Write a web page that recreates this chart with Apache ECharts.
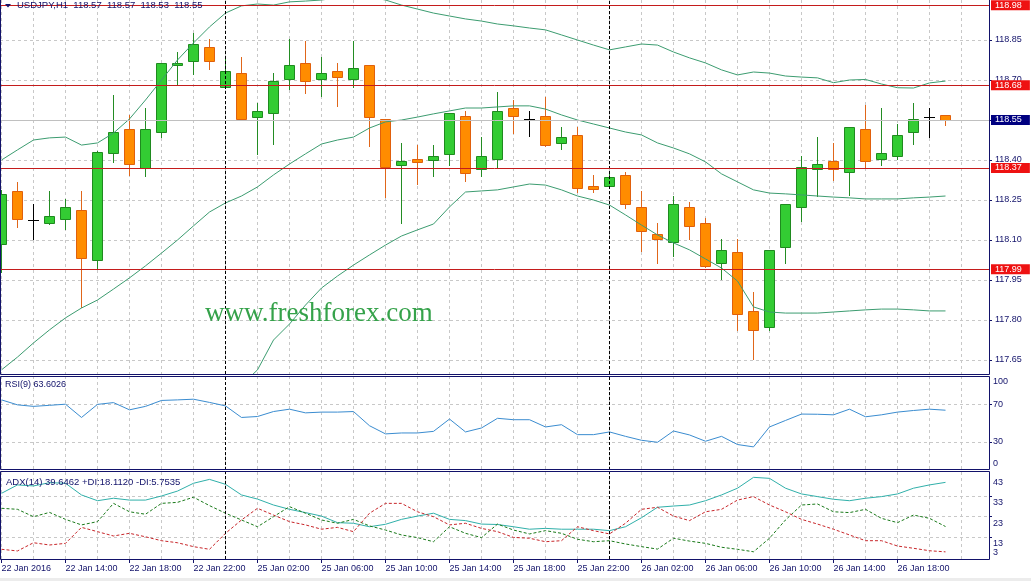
<!DOCTYPE html>
<html><head><meta charset="utf-8">
<script src="https://cdn.jsdelivr.net/npm/echarts@6/dist/echarts.min.js"></script>
<style>html,body{margin:0;padding:0;background:#fff;}#c{width:1031px;height:581px;}</style>
</head><body><div id="c"></div>
<script>
var symbolName = 'USDJPY,H1';
var barTimes = [
 '22 Jan 10:00','22 Jan 11:00','22 Jan 12:00','22 Jan 13:00','22 Jan 14:00','22 Jan 15:00','22 Jan 16:00','22 Jan 17:00','22 Jan 18:00','22 Jan 19:00',
 '22 Jan 20:00','22 Jan 21:00','22 Jan 22:00','22 Jan 23:00','25 Jan 00:00','25 Jan 01:00','25 Jan 02:00','25 Jan 03:00','25 Jan 04:00','25 Jan 05:00',
 '25 Jan 06:00','25 Jan 07:00','25 Jan 08:00','25 Jan 09:00','25 Jan 10:00','25 Jan 11:00','25 Jan 12:00','25 Jan 13:00','25 Jan 14:00','25 Jan 15:00',
 '25 Jan 16:00','25 Jan 17:00','25 Jan 18:00','25 Jan 19:00','25 Jan 20:00','25 Jan 21:00','25 Jan 22:00','25 Jan 23:00','26 Jan 00:00','26 Jan 01:00',
 '26 Jan 02:00','26 Jan 03:00','26 Jan 04:00','26 Jan 05:00','26 Jan 06:00','26 Jan 07:00','26 Jan 08:00','26 Jan 09:00','26 Jan 10:00','26 Jan 11:00',
 '26 Jan 12:00','26 Jan 13:00','26 Jan 14:00','26 Jan 15:00','26 Jan 16:00','26 Jan 17:00','26 Jan 18:00','26 Jan 19:00','26 Jan 20:00','26 Jan 21:00'
];
var open = [
 118.085,118.284,118.175,118.163,118.180,118.213,118.024,118.425,118.515,118.371,
 118.504,118.755,118.772,118.823,118.673,118.725,118.562,118.575,118.703,118.764,
 118.703,118.733,118.703,118.756,118.553,118.382,118.404,118.401,118.424,118.564,
 118.365,118.403,118.594,118.553,118.564,118.463,118.493,118.304,118.301,118.344,
 118.223,118.121,118.091,118.223,118.163,118.013,118.054,117.833,117.773,118.073,
 118.223,118.365,118.395,118.354,118.516,118.403,118.414,118.504,118.562,118.570
];
var high = [
 118.288,118.316,118.235,118.284,118.254,118.284,118.432,118.644,118.569,118.596,
 118.765,118.804,118.875,118.853,118.778,118.785,118.613,118.725,118.853,118.847,
 118.785,118.763,118.846,118.757,118.554,118.463,118.456,118.456,118.577,118.584,
 118.485,118.655,118.625,118.584,118.635,118.523,118.523,118.344,118.356,118.355,
 118.285,118.165,118.266,118.243,118.181,118.103,118.103,117.904,118.062,118.235,
 118.415,118.487,118.465,118.525,118.606,118.596,118.535,118.614,118.594,118.570
];
var low = [
 117.980,118.150,118.103,118.160,118.142,117.849,117.994,118.394,118.343,118.341,
 118.485,118.685,118.724,118.742,118.671,118.552,118.423,118.460,118.665,118.652,
 118.640,118.603,118.673,118.453,118.262,118.163,118.310,118.341,118.382,118.322,
 118.341,118.373,118.502,118.490,118.454,118.442,118.281,118.281,118.300,118.221,
 118.060,118.013,118.041,118.103,118.000,117.953,117.763,117.653,117.761,118.013,
 118.172,118.265,118.325,118.270,118.375,118.382,118.403,118.460,118.485,118.530
];
var close = [
 118.273,118.180,118.175,118.191,118.223,118.031,118.431,118.504,118.384,118.515,
 118.764,118.765,118.835,118.772,118.734,118.553,118.583,118.695,118.755,118.695,
 118.725,118.712,118.744,118.562,118.373,118.395,118.394,118.415,118.576,118.352,
 118.414,118.583,118.564,118.553,118.455,118.485,118.294,118.292,118.336,118.234,
 118.133,118.103,118.235,118.151,118.001,118.063,117.821,117.761,118.061,118.234,
 118.373,118.385,118.365,118.524,118.396,118.425,118.494,118.554,118.562,118.550
];
var bbUpper = [
 118.400,118.438,118.475,118.483,118.486,118.456,118.464,118.501,118.554,118.625,
 118.700,118.775,118.839,118.899,118.951,118.978,118.985,118.981,118.993,118.996,
 119.000,119.008,119.015,119.011,119.000,118.981,118.966,118.951,118.940,118.929,
 118.921,118.910,118.903,118.895,118.888,118.869,118.850,118.831,118.813,118.824,
 118.835,118.831,118.805,118.783,118.764,118.738,118.719,118.730,118.726,118.715,
 118.711,118.708,118.690,118.700,118.702,118.685,118.671,118.670,118.689,118.696
];
var bbMiddle = [
 117.613,117.661,117.714,117.763,117.808,117.845,117.875,117.916,117.958,118.003,
 118.051,118.100,118.153,118.205,118.239,118.265,118.299,118.344,118.385,118.423,
 118.460,118.475,118.486,118.520,118.543,118.550,118.561,118.573,118.584,118.595,
 118.595,118.599,118.603,118.603,118.591,118.569,118.550,118.535,118.520,118.505,
 118.494,118.464,118.445,118.423,118.393,118.348,118.318,118.288,118.276,118.273,
 118.269,118.265,118.261,118.258,118.254,118.254,118.254,118.258,118.261,118.265
];
var bbLower = [
 116.825,116.885,116.953,117.043,117.129,117.234,117.286,117.331,117.361,117.380,
 117.403,117.425,117.466,117.511,117.526,117.556,117.613,117.725,117.785,117.856,
 117.920,117.965,118.006,118.044,118.081,118.115,118.138,118.160,118.224,118.280,
 118.284,118.288,118.299,118.310,118.306,118.288,118.265,118.250,118.231,118.194,
 118.156,118.119,118.089,118.063,118.029,117.995,117.946,117.849,117.830,117.826,
 117.826,117.826,117.830,117.834,117.838,117.841,117.841,117.838,117.834,117.834
];
var rsi = [
 74.6,69.3,67.7,68.8,70.0,55.9,69.8,71.7,64.0,67.7,
 74.0,74.6,75.3,71.9,68.2,55.9,56.9,62.2,64.7,60.8,
 61.6,61.6,62.2,47.1,38.4,39.4,39.4,41.1,54.2,40.5,
 44.7,55.0,53.5,53.5,45.8,48.2,37.6,37.6,40.5,35.8,
 31.6,29.5,41.5,37.3,30.6,35.8,27.1,24.6,45.8,52.7,
 59.5,59.3,58.7,64.7,56.6,58.7,61.6,63.3,64.7,63.6026
];
var adx = [
 34.3,38.4,37.9,39.5,39.2,33.5,30.7,31.9,31.0,31.0,
 33.0,35.4,39.2,41.1,38.7,33.5,31.5,28.6,26.5,24.9,
 23.2,20.0,19.7,18.0,19.2,21.6,23.2,24.6,21.6,21.0,
 19.3,19.1,18.0,16.8,17.2,16.8,16.8,16.8,16.1,18.0,
 22.4,27.5,28.1,28.6,30.7,33.5,36.8,42.1,41.6,36.8,
 34.0,32.7,31.4,30.7,31.9,32.7,34.0,36.8,38.4,39.6462
];
var plusDI = [
 27.0,26.5,22.9,25.0,21.6,18.9,20.5,29.4,25.3,24.1,
 29.4,29.9,32.4,28.3,24.6,21.3,18.0,22.9,27.8,24.6,
 21.3,19.7,21.6,18.4,16.4,14.0,12.7,10.7,18.0,14.8,
 12.7,19.3,16.4,14.5,16.1,14.8,11.9,10.7,11.2,9.6,
 8.3,7.1,12.4,11.0,9.9,8.0,7.0,5.8,12.4,21.3,
 28.6,29.1,25.3,24.9,26.5,22.1,20.0,23.7,22.1,18.1120
];
var minusDI = [
 7.0,6.2,10.2,9.1,9.9,17.7,15.6,13.5,14.8,13.1,
 11.2,10.2,8.3,7.0,14.8,21.3,27.0,23.7,20.5,18.9,
 16.8,17.7,15.6,24.6,29.4,29.4,25.3,22.9,18.9,19.7,
 17.2,15.6,12.8,12.4,10.7,11.2,18.0,16.1,14.5,19.7,
 26.5,27.5,23.2,21.0,25.3,26.5,31.0,32.7,28.6,25.3,
 21.6,19.3,16.8,14.0,11.2,11.2,8.6,7.5,6.3,5.7535
];
var levels = [118.98, 118.68, 118.37, 117.99];
var priceTicks = [117.65, 117.80, 117.95, 118.10, 118.25, 118.40, 118.55, 118.70, 118.85];
var rsiLabels = [0, 30, 70, 100];
var rsiGridLevels = [30, 70];
var adxLabelsUpper = [13, 23, 33, 43];
var adxLabelBottom = [3];
var adxGridLevels = [13, 23, 33];
var xTickLabels = ['22 Jan 2016','22 Jan 14:00','22 Jan 18:00','22 Jan 22:00','25 Jan 02:00','25 Jan 06:00','25 Jan 10:00','25 Jan 14:00','25 Jan 18:00','25 Jan 22:00','26 Jan 02:00','26 Jan 06:00','26 Jan 10:00','26 Jan 14:00','26 Jan 18:00'];

// ---- derived helpers ----
var nBars = barTimes.length;
var tickBars = xTickLabels.map(function (_, k) { return k * 4; });
var gridBars = [];
for (var g = 0; g <= nBars; g += 2) gridBars.push(g);
var daySeparators = [];
for (var d = 1; d < nBars; d++) {
  if (barTimes[d].slice(0, 6) !== barTimes[d - 1].slice(0, 6)) daySeparators.push(d);
}
var last = nBars - 1;

var NAVY = '#12126a', FONT = 'Liberation Sans', GRIDC = '#c8c8c8';
var xMin = -0.09375, xMax = 61.71875;

function idx(arr) { return arr.map(function (v, i) { return [i, v]; }); }
var candleData = barTimes.map(function (t, i) { return [i, open[i], close[i], low[i], high[i]]; });

function gridX(gi) {
  return { type: 'value', gridIndex: gi, min: xMin, max: xMax,
    axisLine: { show: false, onZero: false }, axisTick: { show: false, customValues: gridBars },
    axisLabel: { show: false }, splitLine: { show: true, lineStyle: { color: GRIDC, type: [3, 3], width: 1 } } };
}
var sepMark = { symbol: ['none', 'none'], silent: true, label: { show: false },
  lineStyle: { color: '#000', type: [3, 2], width: 1 },
  data: daySeparators.map(function (v) { return { xAxis: v }; }) };

function renderCandle(params, api) {
  var i = api.value(0), o = api.value(1), c = api.value(2), l = api.value(3), h = api.value(4);
  var pO = api.coord([i, o]), pC = api.coord([i, c]), pL = api.coord([i, l]), pH = api.coord([i, h]);
  var cx = Math.floor(pO[0]);
  var yO = Math.round(pO[1]), yC = Math.round(pC[1]), yH = Math.round(pH[1]), yL = Math.round(pL[1]);
  var wick, fill, stroke;
  if (c > o) { wick = '#238c23'; fill = '#33cc33'; stroke = '#1f8a1f'; }
  else if (c < o) { wick = '#e0661a'; fill = '#ff8c00'; stroke = '#e0600c'; }
  else { wick = '#000'; }
  var children = [{ type: 'line', shape: { x1: cx + 0.5, y1: yH, x2: cx + 0.5, y2: yL + 1 }, style: { stroke: wick, lineWidth: 1 } }];
  if (c === o) {
    children.push({ type: 'line', shape: { x1: cx - 5, y1: yO + 0.5, x2: cx + 6, y2: yO + 0.5 }, style: { stroke: '#000', lineWidth: 1 } });
  } else {
    var top = Math.min(yO, yC), bot = Math.max(yO, yC);
    children.push({ type: 'rect', shape: { x: cx - 4.5, y: top + 0.5, width: 10, height: Math.max(bot - top, 1) }, style: { fill: fill, stroke: stroke, lineWidth: 1 } });
  }
  return { type: 'group', children: children };
}

var lineBase = { type: 'line', symbol: 'none', showSymbol: false, smooth: false, silent: true };
function L(extra) { var o = {}; for (var k in lineBase) o[k] = lineBase[k]; for (var k2 in extra) o[k2] = extra[k2]; return o; }
var BBC = '#3c9c70';
var labelBase = { color: NAVY, fontFamily: FONT, fontSize: 9, showMinLabel: true, showMaxLabel: true, hideOverlap: false };
function lab(extra) { var o = {}; for (var k in labelBase) o[k] = labelBase[k]; for (var k2 in extra) o[k2] = extra[k2]; return o; }

var option = {
  animation: false,
  backgroundColor: '#fff',
  grid: [
    { left: 0, top: 0, width: 989, height: 374, show: false, outerBoundsMode: 'none', containLabel: false },
    { left: 0, top: 376, width: 989, height: 94, show: false, outerBoundsMode: 'none', containLabel: false },
    { left: 0, top: 472, width: 989, height: 87, show: false, outerBoundsMode: 'none', containLabel: false }
  ],
  xAxis: [
    gridX(0), gridX(1), gridX(2),
    { type: 'value', gridIndex: 2, min: xMin, max: xMax, position: 'bottom',
      axisLine: { show: false, onZero: false },
      axisTick: { show: true, customValues: tickBars, length: 4, lineStyle: { color: NAVY } },
      axisLabel: lab({ show: true, customValues: tickBars, align: 'left', margin: 5,
        formatter: function (v) { return xTickLabels[Math.round(v / 4)] || ''; } }),
      splitLine: { show: false } }
  ],
  yAxis: [
    { type: 'value', gridIndex: 0, position: 'right', min: 117.5975, max: 119.0,
      axisLine: { show: false, onZero: false },
      axisTick: { show: true, customValues: priceTicks, length: 3, lineStyle: { color: NAVY } },
      axisLabel: lab({ customValues: priceTicks, margin: 6, formatter: function (v) { return v.toFixed(2); } }),
      splitLine: { show: true, lineStyle: { color: GRIDC, type: [3, 3], width: 1 } } },
    { type: 'value', gridIndex: 1, position: 'right', min: 0, max: 100,
      axisLine: { show: false, onZero: false },
      axisTick: { show: true, customValues: rsiGridLevels, length: 3, lineStyle: { color: NAVY } },
      axisLabel: lab({ customValues: rsiLabels, margin: 4, lineHeight: 12,
        formatter: function (v) { return v === rsiLabels[rsiLabels.length - 1] ? '\n' + v : (v === rsiLabels[0] ? v + '\n' : String(v)); } }),
      splitLine: { show: true, lineStyle: { color: GRIDC, type: [3, 3], width: 1 } } },
    { type: 'value', gridIndex: 2, position: 'right', min: 2.27, max: 44.7,
      axisLine: { show: false, onZero: false },
      axisTick: { show: true, customValues: adxGridLevels, length: 3, lineStyle: { color: NAVY } },
      axisLabel: lab({ customValues: adxLabelsUpper, margin: 4, lineHeight: 14, verticalAlign: 'top' }),
      splitLine: { show: true, lineStyle: { color: GRIDC, type: [3, 3], width: 1 } } },
    { type: 'value', gridIndex: 2, position: 'right', min: 2.27, max: 44.7,
      axisLine: { show: false, onZero: false },
      axisTick: { show: false, customValues: adxLabelBottom },
      axisLabel: lab({ customValues: adxLabelBottom, margin: 4, lineHeight: 10, verticalAlign: 'bottom' }),
      splitLine: { show: false } }
  ],
  series: [
    L({ name: 'last', xAxisIndex: 0, yAxisIndex: 0, data: [], clip: false, z: 1,
      markLine: { symbol: ['none', 'none'], silent: true, lineStyle: { color: '#c0c0c0', type: 'solid', width: 1 },
        label: { show: true, position: 'end', distance: 2, color: '#fff', backgroundColor: '#000080', padding: [1, 8, 0, 4],
          fontFamily: FONT, fontSize: 9, lineHeight: 9, formatter: function (p) { return p.value.toFixed(2); } },
        data: [{ yAxis: close[last] }] } }),
    { name: 'candles', type: 'custom', xAxisIndex: 0, yAxisIndex: 0, clip: true, z: 3, silent: true,
      renderItem: renderCandle, encode: { x: 0, y: [1, 2, 3, 4] }, data: candleData },
    L({ name: 'bbUpper', xAxisIndex: 0, yAxisIndex: 0, z: 4, lineStyle: { color: BBC, width: 1 }, data: idx(bbUpper) }),
    L({ name: 'bbMiddle', xAxisIndex: 0, yAxisIndex: 0, z: 4, lineStyle: { color: BBC, width: 1 }, data: idx(bbMiddle), markLine: sepMark }),
    L({ name: 'bbLower', xAxisIndex: 0, yAxisIndex: 0, z: 4, lineStyle: { color: BBC, width: 1 }, data: idx(bbLower) }),
    L({ name: 'levels', xAxisIndex: 0, yAxisIndex: 0, data: [], clip: false, z: 5,
      markLine: { symbol: ['none', 'none'], silent: true, lineStyle: { color: '#c41c1c', type: 'solid', width: 1 },
        label: { show: true, position: 'end', distance: 2, color: '#fff', backgroundColor: '#ee1212', padding: [1, 8, 0, 4],
          fontFamily: FONT, fontSize: 9, lineHeight: 9, formatter: function (p) { return p.value.toFixed(2); } },
        data: levels.map(function (v) { return { yAxis: v }; }) } }),
    L({ name: 'rsi', xAxisIndex: 1, yAxisIndex: 1, z: 4, lineStyle: { color: '#3a8cd0', width: 1 }, data: idx(rsi), markLine: sepMark }),
    L({ name: 'adx', xAxisIndex: 2, yAxisIndex: 2, z: 4, lineStyle: { color: '#30b0aa', width: 1 }, data: idx(adx), markLine: sepMark }),
    L({ name: '+di', xAxisIndex: 2, yAxisIndex: 2, z: 4, lineStyle: { color: '#1a7a1a', width: 1, type: [3, 2] }, data: idx(plusDI) }),
    L({ name: '-di', xAxisIndex: 2, yAxisIndex: 2, z: 4, lineStyle: { color: '#c8262a', width: 1, type: [3, 2] }, data: idx(minusDI) })
  ],
  graphic: [
    { type: 'rect', z: 100, silent: true, shape: { x: 0.5, y: -0.5, width: 989, height: 375 }, style: { fill: 'none', stroke: NAVY, lineWidth: 1 } },
    { type: 'rect', z: 100, silent: true, shape: { x: 0.5, y: 376.5, width: 989, height: 93 }, style: { fill: 'none', stroke: NAVY, lineWidth: 1 } },
    { type: 'rect', z: 100, silent: true, shape: { x: 0.5, y: 471.5, width: 989, height: 88 }, style: { fill: 'none', stroke: NAVY, lineWidth: 1 } },
    { type: 'rect', z: 100, silent: true, shape: { x: 0, y: 578, width: 1031, height: 3 }, style: { fill: '#ececec' } },
    { type: 'polygon', z: 100, silent: true, shape: { points: [[5, 4], [11, 4], [8, 7.5]] }, style: { fill: NAVY } },
    { type: 'text', z: 100, silent: true, x: 17, y: 5,
      style: { text: symbolName + '  ' + open[last].toFixed(2) + '  ' + high[last].toFixed(2) + '  ' + low[last].toFixed(2) + '  ' + close[last].toFixed(2),
        font: '9.5px "Liberation Sans"', fill: NAVY, verticalAlign: 'middle', align: 'left' } },
    { type: 'text', z: 100, silent: true, x: 5, y: 385,
      style: { text: 'RSI(9) ' + rsi[last].toFixed(4), font: '9px "Liberation Sans"', fill: NAVY, verticalAlign: 'middle', align: 'left' } },
    { type: 'text', z: 100, silent: true, x: 6, y: 482,
      style: { text: 'ADX(14) ' + adx[last].toFixed(4) + ' +DI:' + plusDI[last].toFixed(4) + ' -DI:' + minusDI[last].toFixed(4),
        font: '9.5px "Liberation Sans"', fill: NAVY, verticalAlign: 'middle', align: 'left' } },
    { type: 'text', z: 50, silent: true, x: 205, y: 314,
      style: { text: 'www.freshforex.com', font: '27px "Liberation Serif"', fill: '#35a24a', verticalAlign: 'middle', align: 'left' } }
  ]
};
var chart = echarts.init(document.getElementById('c'));
chart.setOption(option);
</script>
</body></html>
